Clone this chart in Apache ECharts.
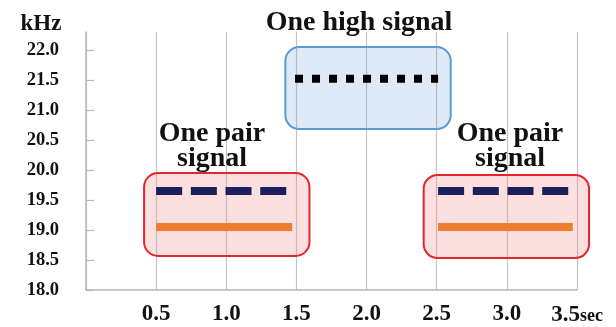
<!DOCTYPE html>
<html><head><meta charset="utf-8">
<script src="https://cdn.jsdelivr.net/npm/echarts@6/dist/echarts.min.js"></script>
<style>html,body{margin:0;padding:0;background:#fff}#c{width:616px;height:327px}</style>
</head><body><div id="c"></div>
<script>
// ---- data ----
const yTicks = [18.0, 18.5, 19.0, 19.5, 20.0, 20.5, 21.0, 21.5, 22.0];
const xTicks = [0.5, 1.0, 1.5, 2.0, 2.5, 3.0, 3.5];
// frequency tracks: [x, kHz]
const pairHighLeft  = [[0.5, 19.65], [1.43, 19.65]];
const pairLowLeft   = [[0.5, 19.05], [1.47, 19.05]];
const highSignal    = [[1.49, 21.52], [2.51, 21.52]];
const pairHighRight = [[2.51, 19.65], [3.44, 19.65]];
const pairLowRight  = [[2.51, 19.05], [3.47, 19.05]];
// highlight boxes: [x0, y0, x1, y1]
const redBoxes  = [[0.414, 18.567, 1.593, 19.95], [2.407, 18.533, 3.586, 19.917]];
const blueBoxes = [[1.421, 20.683, 2.6, 22.05]];

const serif = '"Liberation Serif", "Times New Roman", serif';
const chart = echarts.init(document.getElementById('c'), null, {renderer: 'canvas'});

function boxSeries(data, fill, stroke) {
  return {
    type: 'custom', data: data, clip: false, z: 1,
    renderItem: function (params, api) {
      const p0 = api.coord([api.value(0), api.value(3)]);
      const p1 = api.coord([api.value(2), api.value(1)]);
      return {type: 'rect', shape: {x: p0[0], y: p0[1], width: p1[0] - p0[0], height: p1[1] - p0[1], r: 14},
        style: {fill: fill, stroke: stroke, lineWidth: 2}};
    }
  };
}
function track(data, color, dash) {
  return {type: 'line', data: data, symbol: 'none', z: 3, silent: true,
    lineStyle: {color: color, width: 8, type: dash || 'solid', cap: 'butt'}};
}

chart.setOption({
  animation: false,
  grid: {left: 86, right: 39, top: 32, bottom: 37},
  xAxis: {
    type: 'value', min: 0, max: 3.5, interval: 0.5,
    axisLine: {lineStyle: {color: '#b8b8b8', width: 1.5}},
    axisTick: {show: false},
    splitLine: {show: true, lineStyle: {color: '#c4c4c4', width: 1.2}},
    axisLabel: {
      showMinLabel: false, margin: 13,
      color: '#111', fontFamily: serif, fontWeight: 'bold', fontSize: 23,
      formatter: function (v) {
        if (v === 0) return '';
        if (v === 3.5) return '{a|3.5}{b|sec}';
        return v.toFixed(1);
      },
      rich: {
        a: {fontFamily: serif, fontWeight: 'bold', fontSize: 23, color: '#111', lineHeight: 24, verticalAlign: 'bottom'},
        b: {fontFamily: serif, fontWeight: 'bold', fontSize: 18, color: '#111', lineHeight: 20, verticalAlign: 'bottom', padding: [0, 0, 2, 0]}
      }
    }
  },
  yAxis: {
    type: 'value', min: 18, max: 22.3,
    axisLine: {show: true, lineStyle: {color: '#b8b8b8', width: 1.5}},
    axisTick: {show: true, inside: true, length: 8, customValues: yTicks, lineStyle: {color: '#b8b8b8', width: 1.2}},
    splitLine: {show: false},
    axisLabel: {
      customValues: yTicks, margin: 27,
      color: '#111', fontFamily: serif, fontWeight: 'bold', fontSize: 18.5,
      formatter: function (v) { return v.toFixed(1); }
    }
  },
  graphic: [
    {type: 'text', x: 41, y: 24, style: {text: 'kHz', fontFamily: serif, fontWeight: 'bold', fontSize: 23, fill: '#111', align: 'center', verticalAlign: 'middle'}},
    {type: 'text', x: 359, y: 22.5, z: 10, style: {text: 'One high signal', fontFamily: serif, fontWeight: 'bold', fontSize: 28, fill: '#111', align: 'center', verticalAlign: 'middle'}},
    {type: 'text', x: 212, y: 133.5, z: 10, style: {text: 'One pair', fontFamily: serif, fontWeight: 'bold', fontSize: 28, fill: '#111', align: 'center', verticalAlign: 'middle'}},
    {type: 'text', x: 212, y: 158.5, z: 10, style: {text: 'signal', fontFamily: serif, fontWeight: 'bold', fontSize: 28, fill: '#111', align: 'center', verticalAlign: 'middle'}},
    {type: 'text', x: 510, y: 133.5, z: 10, style: {text: 'One pair', fontFamily: serif, fontWeight: 'bold', fontSize: 28, fill: '#111', align: 'center', verticalAlign: 'middle'}},
    {type: 'text', x: 510, y: 158.5, z: 10, style: {text: 'signal', fontFamily: serif, fontWeight: 'bold', fontSize: 28, fill: '#111', align: 'center', verticalAlign: 'middle'}}
  ],
  series: [
    boxSeries(redBoxes, 'rgba(245,130,130,0.25)', '#e3262b'),
    boxSeries(blueBoxes, 'rgba(91,155,213,0.2)', '#5b9bd5'),
    track(pairHighLeft, '#1b1f5c', [26, 8.7]),
    track(pairLowLeft, '#ed7d31'),
    track(highSignal, '#000000', [8, 9]),
    track(pairHighRight, '#1b1f5c', [26, 8.7]),
    track(pairLowRight, '#ed7d31')
  ]
});
</script>
</body></html>
